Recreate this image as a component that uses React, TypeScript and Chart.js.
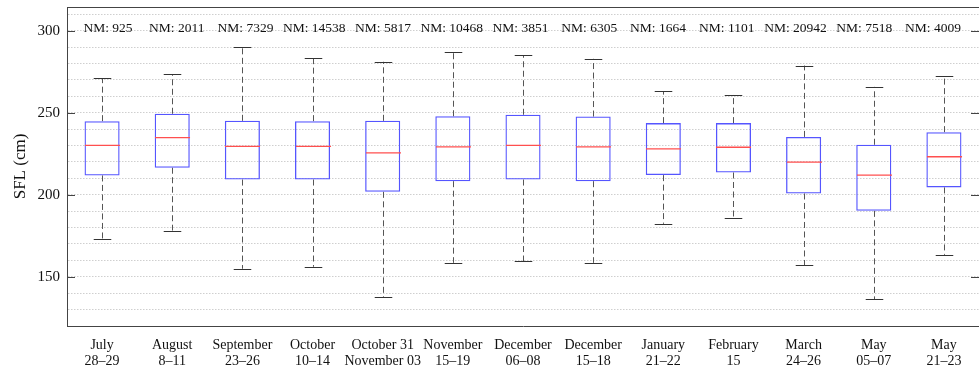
import React, { useEffect, useRef } from 'react';
import { Chart, registerables } from 'chart.js';

Chart.register(...registerables);

const CATEGORIES: string[][] = [
  ['July', '28–29'],
  ['August', '8–11'],
  ['September', '23–26'],
  ['October', '10–14'],
  ['October 31', 'November 03'],
  ['November', '15–19'],
  ['December', '06–08'],
  ['December', '15–18'],
  ['January', '21–22'],
  ['February', '15'],
  ['March', '24–26'],
  ['May', '05–07'],
  ['May', '21–23'],
];
const NM = [925, 2011, 7329, 14538, 5817, 10468, 3851, 6305, 1664, 1101, 20942, 7518, 4009];
const WHISKER_LOW = [173.2, 178.2, 154.9, 156.1, 137.4, 158.5, 159.5, 158.5, 182.3, 185.7, 157.1, 136.2, 163.4];
const Q1 = [211.8, 216.5, 209.3, 209.3, 201.8, 208.3, 209.3, 208.3, 212.0, 213.6, 200.8, 190.2, 204.5];
const MEDIAN = [230.1, 234.9, 229.5, 229.5, 225.6, 229.2, 230.1, 229.2, 228.0, 229.0, 219.9, 212.0, 223.2];
const Q3 = [244.9, 249.4, 245.1, 244.9, 245.1, 247.9, 248.8, 247.7, 243.7, 243.7, 235.3, 230.5, 238.2];
const WHISKER_HIGH = [271.1, 273.5, 290.4, 283.5, 281.1, 286.8, 285.1, 282.9, 263.0, 261.1, 278.8, 265.8, 272.5];
const Y_MAJOR = [150, 200, 250, 300];
const Y_GRID = [130, 140, 150, 160, 170, 180, 190, 200, 210, 220, 230, 240, 250, 260, 270, 280, 290, 300, 310];
const Y_MIN = 120;
const Y_MAX = 314.5;
const NM_Y = 301.4;
const Y_TITLE = 'SFL (cm)';

const SERIF = "'Liberation Serif', 'Times New Roman', serif";
const AXIS_COLOR = '#444444';

const boxPlugin = {
  id: 'boxExtras',
  afterDatasetsDraw(chart: any) {
    const { ctx, chartArea, scales } = chart;
    const x = scales.x;
    const y = scales.y;
    const meta = chart.getDatasetMeta(0);
    const catW = (chartArea.right - chartArea.left) / CATEGORIES.length;
    ctx.save();
    for (let i = 0; i < CATEGORIES.length; i++) {
      const cx = Math.round(x.getPixelForValue(i)) + 0.5;
      const bw = meta.data[i] ? meta.data[i].width : catW * 0.5;
      const yHi = y.getPixelForValue(WHISKER_HIGH[i]);
      const yLo = y.getPixelForValue(WHISKER_LOW[i]);
      const yQ1 = y.getPixelForValue(Q1[i]);
      const yQ3 = y.getPixelForValue(Q3[i]);
      const yMed = y.getPixelForValue(MEDIAN[i]);
      // dashed whiskers
      ctx.strokeStyle = '#555555';
      ctx.lineWidth = 1;
      ctx.setLineDash([6, 3.5]);
      ctx.beginPath();
      ctx.moveTo(cx, yQ3);
      ctx.lineTo(cx, yHi);
      ctx.moveTo(cx, yQ1);
      ctx.lineTo(cx, yLo);
      ctx.stroke();
      ctx.setLineDash([]);
      // caps
      const capHalf = catW * 0.125;
      ctx.strokeStyle = '#333333';
      ctx.beginPath();
      ctx.moveTo(cx - capHalf, Math.round(yHi) + 0.5);
      ctx.lineTo(cx + capHalf, Math.round(yHi) + 0.5);
      ctx.moveTo(cx - capHalf, Math.round(yLo) + 0.5);
      ctx.lineTo(cx + capHalf, Math.round(yLo) + 0.5);
      ctx.stroke();
      // median
      ctx.strokeStyle = '#ff4f4f';
      ctx.lineWidth = 1.3;
      ctx.beginPath();
      ctx.moveTo(cx - bw / 2, yMed);
      ctx.lineTo(cx + bw / 2, yMed);
      ctx.stroke();
      // NM labels (annotation row spaced slightly tighter than the categories)
      ctx.fillStyle = '#111111';
      ctx.font = `13.5px ${SERIF}`;
      ctx.textAlign = 'center';
      ctx.textBaseline = 'middle';
      const lx = x.getPixelForValue(0.085 + i * 0.98);
      ctx.fillText(`NM: ${NM[i]}`, lx, y.getPixelForValue(NM_Y));
    }
    // top frame line
    ctx.strokeStyle = AXIS_COLOR;
    ctx.lineWidth = 1;
    ctx.beginPath();
    ctx.moveTo(chartArea.left, Math.round(chartArea.top) + 0.5);
    ctx.lineTo(chartArea.right, Math.round(chartArea.top) + 0.5);
    ctx.stroke();
    // inward ticks left and right
    ctx.beginPath();
    for (const v of Y_MAJOR) {
      const py = Math.round(y.getPixelForValue(v)) + 0.5;
      ctx.moveTo(chartArea.left, py);
      ctx.lineTo(chartArea.left + 8, py);
      ctx.moveTo(chartArea.right - 8, py);
      ctx.lineTo(chartArea.right, py);
    }
    ctx.stroke();
    // y title
    ctx.save();
    ctx.translate(21, (chartArea.top + chartArea.bottom) / 2);
    ctx.rotate(-Math.PI / 2);
    ctx.fillStyle = '#111111';
    ctx.font = `17px ${SERIF}`;
    ctx.textAlign = 'center';
    ctx.textBaseline = 'middle';
    ctx.fillText(Y_TITLE, 0, 0);
    ctx.restore();
    ctx.restore();
  },
};

export default function App() {
  const canvasRef = useRef<HTMLCanvasElement | null>(null);

  useEffect(() => {
    document.body.style.margin = '0';
    const canvas = canvasRef.current;
    if (!canvas) return;
    const chart = new Chart(canvas, {
      type: 'bar',
      data: {
        labels: CATEGORIES,
        datasets: [
          {
            label: 'box',
            data: Q1.map((q, i) => [q, Q3[i]]) as any,
            backgroundColor: 'rgba(0,0,0,0)',
            borderColor: '#5555ff',
            borderWidth: 1.3,
            borderSkipped: false,
            barPercentage: 0.5,
            categoryPercentage: 1,
          },
        ],
      },
      options: {
        animation: false,
        responsive: false,
        maintainAspectRatio: false,
        layout: { padding: { top: 7, left: 0, right: 0, bottom: 0 } },
        plugins: {
          legend: { display: false },
          tooltip: { enabled: false },
          title: { display: false },
        },
        scales: {
          x: {
            type: 'category',
            offset: true,
            grid: { display: false, drawTicks: false },
            border: { display: true, color: AXIS_COLOR, width: 1 },
            ticks: {
              color: '#111111',
              font: { family: SERIF, size: 14, lineHeight: 1.1 },
              padding: 12,
              maxRotation: 0,
              autoSkip: false,
            },
            afterFit: (scale: any) => {
              scale.height = 44;
              scale.paddingLeft = 0;
              scale.paddingRight = 0;
            },
          },
          y: {
            type: 'linear',
            min: Y_MIN,
            max: Y_MAX,
            afterBuildTicks: (scale: any) => {
              scale.ticks = Y_GRID.map((v) => ({ value: v }));
            },
            grid: {
              color: '#cfcfcf',
              lineWidth: 1,
              drawTicks: false,
            },
            border: { display: true, color: AXIS_COLOR, width: 1, dash: [1.5, 1.5] },
            ticks: {
              color: '#111111',
              font: { family: SERIF, size: 15 },
              padding: 7,
              autoSkip: false,
              callback: (v: any) => (Y_MAJOR.includes(Number(v)) ? String(v) : ''),
            },
            afterFit: (scale: any) => {
              scale.width = 67;
              scale.paddingTop = 0;
              scale.paddingBottom = 0;
            },
          },
        },
      },
      plugins: [boxPlugin],
    });
    return () => chart.destroy();
  }, []);

  return (
    <div style={{ width: 979, height: 370 }}>
      <canvas ref={canvasRef} width={979} height={370} style={{ display: 'block' }} />
    </div>
  );
}
